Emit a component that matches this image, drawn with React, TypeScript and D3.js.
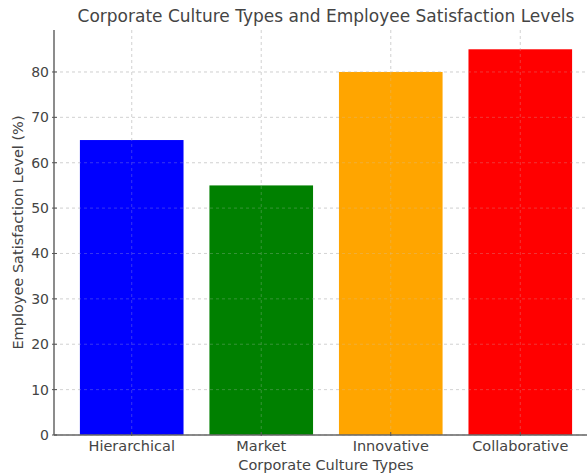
import React, { useEffect, useRef } from 'react';
import * as d3 from 'd3';

const categories = ['Hierarchical', 'Market', 'Innovative', 'Collaborative'];
const satisfaction = [65, 55, 80, 85];
const barColors = ['#0000ff', '#008000', '#ffa500', '#ff0000'];
const yTicks = [0, 10, 20, 30, 40, 50, 60, 70, 80];

const App: React.FC = () => {
  const svgRef = useRef<SVGSVGElement>(null);

  useEffect(() => {
    if (!svgRef.current) return;
    const width = 587;
    const height = 474;
    const left = 54;
    const right = 598; // axes runs past the cropped figure edge
    const top = 30;
    const bottom = 435;
    const font = 'DejaVu Sans, sans-serif';
    const textColor = '#444';

    const svg = d3.select(svgRef.current)
      .attr('width', width)
      .attr('height', height)
      .html('');

    const x = d3.scaleLinear().domain([-0.6, categories.length - 0.4]).range([left, right]);
    const y = d3.scaleLinear().domain([0, 85 * 1.05]).range([bottom, top]);

    const g = svg.append('g');

    const drawGrid = (stroke: string) => {
      g.selectAll(null)
        .data(yTicks)
        .enter()
        .append('line')
        .attr('x1', left)
        .attr('x2', right)
        .attr('y1', d => y(d))
        .attr('y2', d => y(d))
        .attr('stroke', stroke)
        .attr('stroke-width', 0.8)
        .attr('stroke-dasharray', '3,3');
      g.selectAll(null)
        .data(categories)
        .enter()
        .append('line')
        .attr('x1', (_, i) => x(i))
        .attr('x2', (_, i) => x(i))
        .attr('y1', top)
        .attr('y2', bottom)
        .attr('stroke', stroke)
        .attr('stroke-width', 0.8)
        .attr('stroke-dasharray', '3,3');
    };

    drawGrid('#d0d0d0');

    // bars
    const bw = x(0.4) - x(-0.4);
    g.selectAll('.bar')
      .data(satisfaction)
      .enter()
      .append('rect')
      .attr('x', (_, i) => x(i) - bw / 2)
      .attr('y', d => y(d))
      .attr('width', bw)
      .attr('height', d => bottom - y(d))
      .attr('fill', (_, i) => barColors[i]);

    // faint grid showing through the bars
    drawGrid('rgba(200,200,200,0.35)');

    // spines
    g.append('line')
      .attr('x1', left).attr('x2', left)
      .attr('y1', top).attr('y2', bottom)
      .attr('stroke', '#666').attr('stroke-width', 1.5);
    g.append('line')
      .attr('x1', left).attr('x2', right)
      .attr('y1', bottom).attr('y2', bottom)
      .attr('stroke', '#666').attr('stroke-width', 1.5);

    // y ticks
    g.selectAll('.ytick')
      .data(yTicks)
      .enter()
      .append('line')
      .attr('x1', left - 2)
      .attr('x2', left + 3)
      .attr('y1', d => y(d))
      .attr('y2', d => y(d))
      .attr('stroke', '#555');
    g.selectAll('.ylabel')
      .data(yTicks)
      .enter()
      .append('text')
      .attr('x', left - 5)
      .attr('y', d => y(d))
      .attr('text-anchor', 'end')
      .attr('dominant-baseline', 'central')
      .attr('font-family', font)
      .attr('font-size', '14px')
      .attr('fill', textColor)
      .text(d => d);

    // x ticks
    g.selectAll('.xtick')
      .data(categories)
      .enter()
      .append('line')
      .attr('x1', (_, i) => x(i))
      .attr('x2', (_, i) => x(i))
      .attr('y1', bottom - 3)
      .attr('y2', bottom + 1)
      .attr('stroke', '#555');
    g.selectAll('.xlabel')
      .data(categories)
      .enter()
      .append('text')
      .attr('x', (_, i) => x(i))
      .attr('y', bottom + 16)
      .attr('text-anchor', 'middle')
      .attr('font-family', font)
      .attr('font-size', '14.5px')
      .attr('fill', textColor)
      .text(d => d);

    // axis titles
    svg.append('text')
      .attr('x', (left + right) / 2)
      .attr('y', 470)
      .attr('text-anchor', 'middle')
      .attr('font-family', font)
      .attr('font-size', '14.5px')
      .attr('fill', textColor)
      .text('Corporate Culture Types');

    svg.append('text')
      .attr('transform', `translate(23, ${(top + bottom) / 2}) rotate(-90)`)
      .attr('text-anchor', 'middle')
      .attr('font-family', font)
      .attr('font-size', '14.5px')
      .attr('fill', textColor)
      .text('Employee Satisfaction Level (%)');

    svg.append('text')
      .attr('x', (left + right) / 2)
      .attr('y', 22)
      .attr('text-anchor', 'middle')
      .attr('font-family', font)
      .attr('font-size', '17px')
      .attr('fill', textColor)
      .text('Corporate Culture Types and Employee Satisfaction Levels');
  }, []);

  return (
    <svg ref={svgRef} style={{ position: 'absolute', left: 0, top: 0, background: '#fff' }} />
  );
};

export default App;
